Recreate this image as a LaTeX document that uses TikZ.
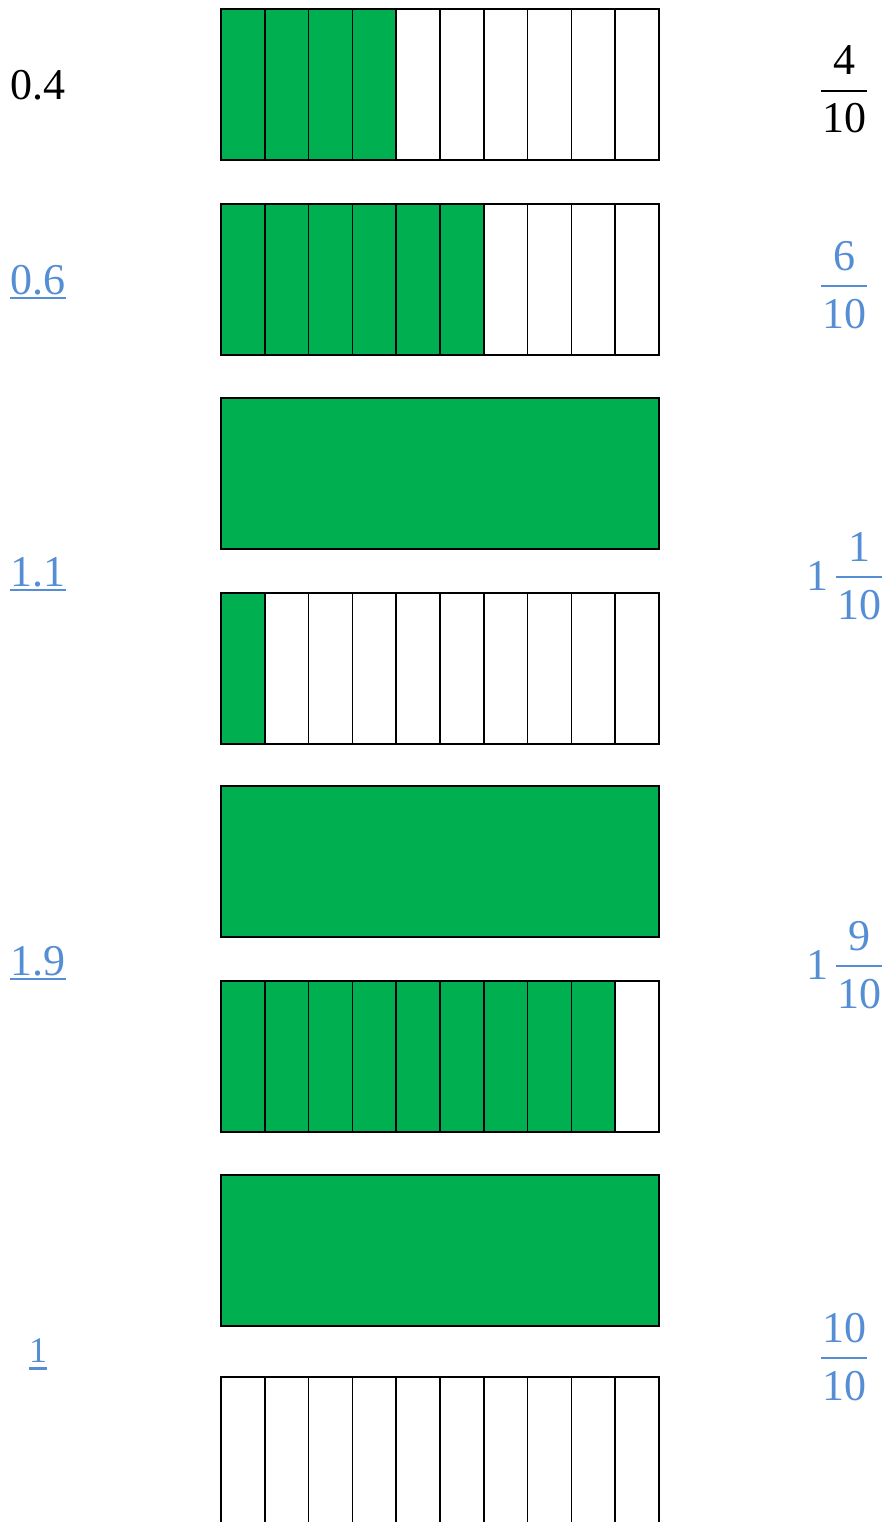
\documentclass[tikz,border=0pt]{standalone}
\usepackage{fontspec}
\setmainfont{Liberation Serif}
\definecolor{barGreen}{HTML}{00B050}
\definecolor{labBlue}{HTML}{558ED5}
\tikzset{
  cell/.style={draw=black,line width=1.5pt},
  lab/.style={inner sep=0pt,anchor=base,font=\fontsize{44}{52}\selectfont},
  uline/.style={labBlue,line width=2pt},
  fracbar/.style={line width=2.6pt}
}
\begin{document}
\begin{tikzpicture}[x=1pt,y=-1pt,line cap=butt,line join=miter]
  \clip (0,0) rectangle (887,1522);
  \fill[white] (0,0) rectangle (887,1522);
  % tenths bars: top edge / shaded cells (10 = one whole)
  \foreach \yt/\n in {9/4,204/6,398/10,593/1,786/10,981/9,1175/10,1377/0}{
    \ifnum\n=10
      \draw[cell,fill=barGreen] (221,\yt) rectangle (659,{\yt+151});
    \else
      \foreach \i in {1,...,10}{
        \ifnum\i>\n \def\shade{white}\else\def\shade{barGreen}\fi
        \draw[cell,fill=\shade] ({221+(\i-1)*43.8},\yt) rectangle ({221+\i*43.8},{\yt+151});
      }
    \fi
  }
  % decimals
  \node[lab] (d1) at (38,100) {0.4};
  \node[lab,labBlue] (d2) at (38,294) {0.6};
  \draw[uline] ([yshift=-4pt]d2.base west) -- ([yshift=-4pt]d2.base east);
  \node[lab,labBlue] (d3) at (38,586) {1.1};
  \draw[uline] ([yshift=-4pt]d3.base west) -- ([yshift=-4pt]d3.base east);
  \node[lab,labBlue] (d4) at (38,975) {1.9};
  \draw[uline] ([yshift=-4pt]d4.base west) -- ([yshift=-4pt]d4.base east);
  \node[lab,labBlue,font=\fontsize{36}{42}\selectfont] (d5) at (38,1362) {1};
  \draw[uline,line width=3pt] ([yshift=-6pt]d5.base west) -- ([yshift=-6pt]d5.base east);
  % fractions
  \node[lab] (f1n) at (844,75) {4};
  \node[lab] (f1d) at (844,133) {10};
  \draw[fracbar] (821,91) -- (867,91);
  \node[lab,labBlue] (f2n) at (844,270) {6};
  \node[lab,labBlue] (f2d) at (844,328) {10};
  \draw[fracbar,labBlue] (821,286) -- (867,286);
  \node[lab,labBlue] (f3w) at (817,590) {1};
  \node[lab,labBlue] (f3n) at (859,561) {1};
  \node[lab,labBlue] (f3d) at (859,619) {10};
  \draw[fracbar,labBlue] (836,577) -- (882,577);
  \node[lab,labBlue] (f4w) at (817,979) {1};
  \node[lab,labBlue] (f4n) at (859,950) {9};
  \node[lab,labBlue] (f4d) at (859,1008) {10};
  \draw[fracbar,labBlue] (836,966) -- (882,966);
  \node[lab,labBlue] (f5n) at (844,1342) {10};
  \node[lab,labBlue] (f5d) at (844,1400) {10};
  \draw[fracbar,labBlue] (821,1358) -- (867,1358);
\end{tikzpicture}
\end{document}
